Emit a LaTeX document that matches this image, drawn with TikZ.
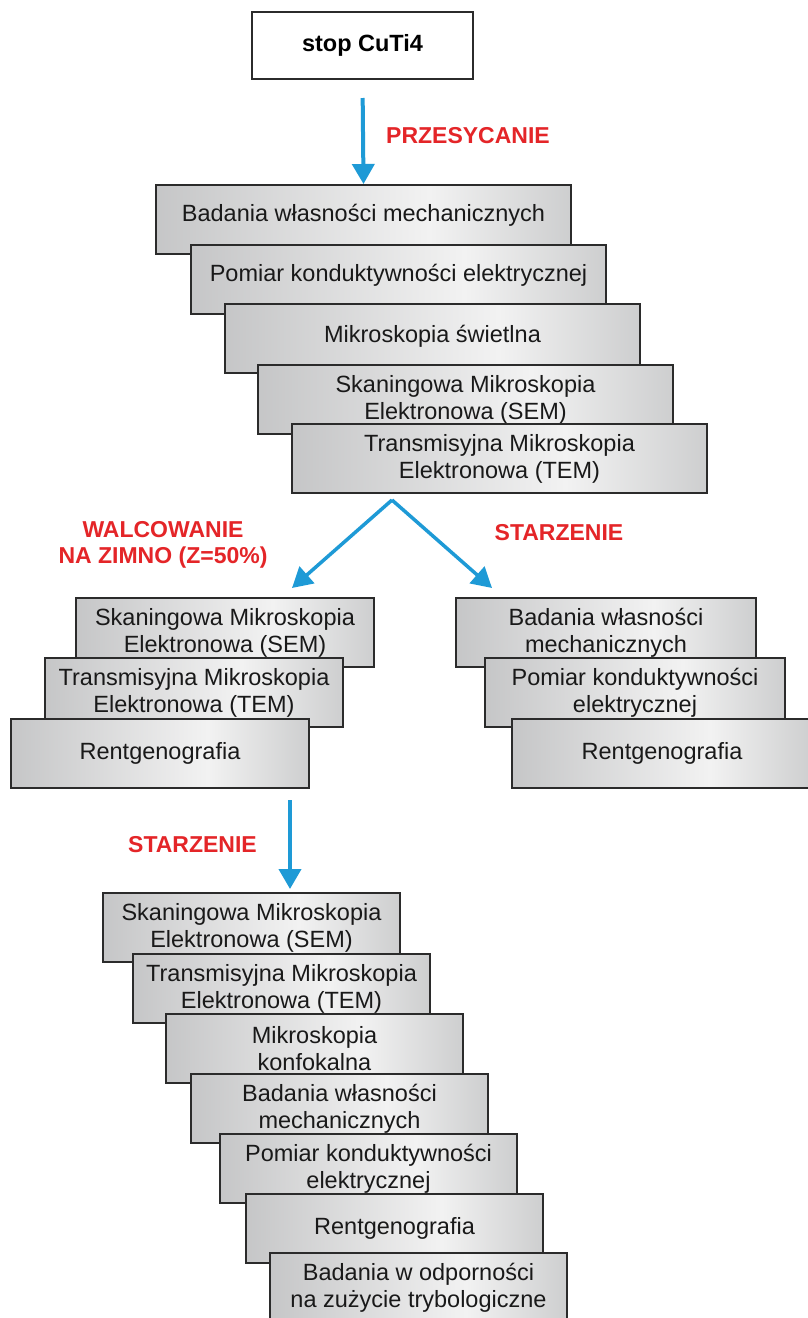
\documentclass[tikz,border=0pt]{standalone}
\usepackage{fontspec}
\setmainfont{Liberation Sans}
\usetikzlibrary{arrows.meta,calc}
\definecolor{flowblue}{HTML}{1E9AD6}
\definecolor{flowred}{HTML}{E42528}
\definecolor{boxline}{HTML}{2B2B2B}
\definecolor{shA}{HTML}{A4A5A7}
\definecolor{shB}{HTML}{F2F2F2}
\definecolor{shC}{HTML}{989A9C}
\pgfdeclarehorizontalshading{boxshade}{100bp}{color(0bp)=(shA); color(58bp)=(shB); color(100bp)=(shC)}
\newcommand{\liftup}[2]{\raisebox{#1}[\height][\depth]{#2}}
\tikzset{
  stepbox/.style={draw=boxline, line width=2pt, shading=boxshade, anchor=north west,
    inner sep=0pt, align=center, text=black!90,
    minimum height=69pt, font={\fontsize{23.5}{27}\selectfont}},
  wide/.style={minimum width=415pt},
  narrow/.style={minimum width=298pt},
  topbox/.style={draw=boxline, line width=2pt, fill=white, minimum width=221pt,
    minimum height=67pt, font={\fontsize{23.5}{27}\selectfont\bfseries}},
  proc/.style={text=flowred, align=center, font={\fontsize{23}{26}\selectfont\bfseries}},
  arr/.style={draw=flowblue, line width=4pt, -{Triangle[width=22pt,length=20pt]}},
  farr/.style={draw=flowblue, line width=3.5pt, -{Triangle[width=22pt,length=20pt]}}
}
\begin{document}
\begin{tikzpicture}[x=1pt,y=-1pt]
\useasboundingbox (0,0) rectangle (807,1318);
\fill[white] (0,0) rectangle (807,1318);

% top
\node[topbox] (top) at (362.5,45.5) {stop CuTi4};
\node[proc] (lp) at (468,136) {PRZESYCANIE};

% first stack
\node[stepbox,wide] (s1) at (155,184) {\liftup{4pt}{Badania własności mechanicznych}};
\node[stepbox,wide] (s2) at (190,244) {\liftup{4pt}{Pomiar konduktywności elektrycznej}};
\node[stepbox,wide] (s3) at (224,303) {\liftup{2pt}{Mikroskopia świetlna}};
\node[stepbox,wide] (s4) at (257,364) {Skaningowa Mikroskopia\\Elektronowa (SEM)};
\node[stepbox,wide] (s5) at (291,423) {Transmisyjna Mikroskopia\\Elektronowa (TEM)};

\draw[arr, shorten <=18pt] (top.south) -- (s1.north);

% fork
\coordinate (apex) at (392,500);
\coordinate (ltip) at (292,588);
\coordinate (rtip) at (492,588);
\draw[farr] (apex) -- (ltip);
\draw[farr] (apex) -- (rtip);
\node[proc] (lw) at (163,545) {WALCOWANIE\\NA ZIMNO (Z=50\%)};
\node[proc] (ls) at (559,533) {STARZENIE};

% left stack
\node[stepbox,narrow] (l1) at (75,597) {Skaningowa Mikroskopia\\Elektronowa (SEM)};
\node[stepbox,narrow] (l2) at (44,657) {Transmisyjna Mikroskopia\\Elektronowa (TEM)};
\node[stepbox,narrow] (l3) at (10,718) {Rentgenografia};

% right stack
\node[stepbox,minimum width=300pt] (r1) at (455,597) {Badania własności\\mechanicznych};
\node[stepbox,minimum width=300pt] (r2) at (484,657) {Pomiar konduktywności\\elektrycznej};
\node[stepbox,minimum width=300pt] (r3) at (511,718) {Rentgenografia};

% bottom arrow
\coordinate (b0) at (290,800);
\coordinate (b1) at (290,889);
\draw[arr] (b0) -- (b1);
\node[proc] (ls2) at (192.5,845) {STARZENIE};

% bottom stack
\node[stepbox,minimum width=297pt] (c1) at (102,892) {Skaningowa Mikroskopia\\Elektronowa (SEM)};
\node[stepbox,minimum width=297pt] (c2) at (132,953) {Transmisyjna Mikroskopia\\Elektronowa (TEM)};
\node[stepbox,minimum width=297pt] (c3) at (165,1013) {Mikroskopia\\konfokalna};
\node[stepbox,minimum width=297pt] (c4) at (190,1073) {Badania własności\\mechanicznych};
\node[stepbox,minimum width=297pt] (c5) at (219,1133) {Pomiar konduktywności\\elektrycznej};
\node[stepbox,minimum width=297pt] (c6) at (245,1193) {Rentgenografia};
\node[stepbox,minimum width=297pt] (c7) at (269,1252) {Badania w odporności\\na zużycie trybologiczne};
\end{tikzpicture}
\end{document}
